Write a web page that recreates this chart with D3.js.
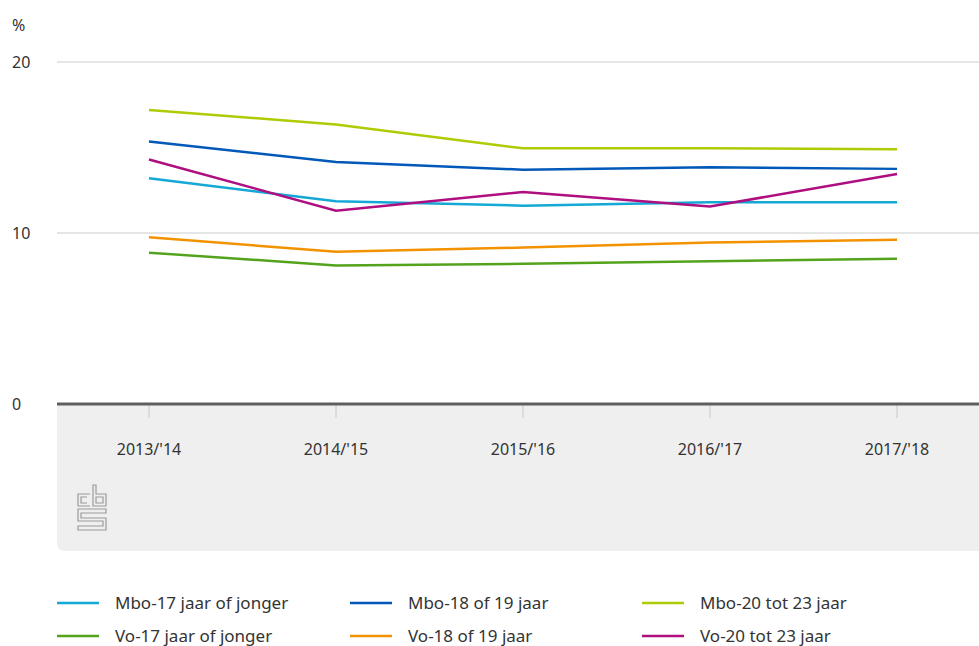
<!DOCTYPE html>
<html>
<head>
<meta charset="utf-8">
<script src="https://cdn.jsdelivr.net/npm/d3@7"></script>
<style>
  body { margin: 0; background: #fff; }
  svg text { font-family: "Noto Sans", "Open Sans", sans-serif; fill: #333; }
</style>
</head>
<body>
<div id="vis"></div>
<script>
const WIDTH = 979;
const HEIGHT = 646;

// schooljaren
const years = ["2013/'14", "2014/'15", "2015/'16", "2016/'17", "2017/'18"];
const yTicks = [0, 10, 20];

const seriesNames = ["Mbo-17 jaar of jonger", "Mbo-18 of 19 jaar", "Mbo-20 tot 23 jaar",
                     "Vo-17 jaar of jonger", "Vo-18 of 19 jaar", "Vo-20 tot 23 jaar"];
const colors = ["#14a8d6", "#0058b8", "#afcb05", "#53a31d", "#f39200", "#af0e80"];

const mbo17 = [13.2, 11.85, 11.6, 11.8, 11.8];
const mbo18 = [15.35, 14.15, 13.7, 13.85, 13.75];
const mbo20 = [17.2, 16.35, 14.95, 14.95, 14.9];
const vo17 = [8.85, 8.1, 8.2, 8.35, 8.5];
const vo18 = [9.75, 8.9, 9.15, 9.45, 9.6];
const vo20 = [14.3, 11.3, 12.4, 11.55, 13.45];

const allSeries = [mbo17, mbo18, mbo20, vo17, vo18, vo20];

const MARG = {left: 57, right: 0, top: 62, bottom: 242};

const svg = d3.select("#vis")
  .append("svg")
    .attr("width", WIDTH)
    .attr("height", HEIGHT);

const x = d3.scalePoint()
  .domain(years)
  .range([149, 897]);

const y = d3.scaleLinear()
  .domain([0, 20])
  .range([404, 62]);

// grijs vlak onder de as
svg.append("path")
  .attr("d", "M57,404 H979 V551 H65 Q57,551 57,543 Z")
  .attr("fill", "#efefef");

// gridlijnen
svg.selectAll(".grid")
  .data(yTicks.filter(d => d > 0))
  .enter()
  .append("line")
    .attr("x1", MARG.left)
    .attr("x2", WIDTH)
    .attr("y1", d => y(d))
    .attr("y2", d => y(d))
    .attr("stroke", "#cccccc")
    .attr("stroke-width", 1);

svg.selectAll(".ylab")
  .data(yTicks)
  .enter()
  .append("text")
    .attr("x", 12)
    .attr("y", d => y(d))
    .attr("dy", "0.35em")
    .attr("font-size", 16)
    .text(d => d);

svg.append("text")
  .attr("x", 12)
  .attr("y", 25)
  .attr("dy", "0.35em")
  .attr("font-size", 16)
  .text("%");

// x-as ticks
svg.selectAll(".tick")
  .data(years)
  .enter()
  .append("line")
    .attr("x1", d => x(d))
    .attr("x2", d => x(d))
    .attr("y1", 405)
    .attr("y2", 418)
    .attr("stroke", "#c8c8c8")
    .attr("stroke-width", 1);

svg.selectAll(".xlab")
  .data(years)
  .enter()
  .append("text")
    .attr("x", d => x(d))
    .attr("y", 449)
    .attr("dy", "0.35em")
    .attr("text-anchor", "middle")
    .attr("font-size", 16)
    .text(d => d);

// basislijn
svg.append("line")
  .attr("x1", MARG.left)
  .attr("x2", WIDTH)
  .attr("y1", y(0))
  .attr("y2", y(0))
  .attr("stroke", "#5f5f5f")
  .attr("stroke-width", 3);

// lijnen
const line = d3.line()
  .x((d, i) => x(years[i]))
  .y(d => y(d));

const drawOrder = [3, 4, 0, 1, 2, 5];
drawOrder.forEach(k => {
  svg.append("path")
    .datum(allSeries[k])
    .attr("d", line)
    .attr("fill", "none")
    .attr("stroke", colors[k])
    .attr("stroke-width", 2.5);
});

// cbs logo
const logo = svg.append("g")
  .attr("transform", "translate(77,484)")
  .attr("fill", "none")
  .attr("stroke", "#9a9a9a")
  .attr("stroke-width", 1.2);
// c
logo.append("path").attr("d", "M13,10 H1 V22 H13 M10,13 H4 V19 H10");
// b
logo.append("path").attr("d", "M16,1 H19 V10 H29 V22 H16 Z M19,13 V19 H26 V13 Z");
// s
logo.append("path").attr("d", "M29,25 H1 V37 H26 V42 H1 V46 H29 V34 H4 V29 H29 Z");

// legenda
const legX = [57, 350, 642];
const legY = [603, 636];
seriesNames.forEach((name, i) => {
  const lx = legX[i % 3];
  const ly = legY[Math.floor(i / 3)];
  svg.append("line")
    .attr("x1", lx)
    .attr("x2", lx + 42)
    .attr("y1", ly)
    .attr("y2", ly)
    .attr("stroke", colors[i])
    .attr("stroke-width", 2.5);
  svg.append("text")
    .attr("x", lx + 58)
    .attr("y", ly)
    .attr("dy", "0.35em")
    .attr("font-size", 17)
    .text(name);
});
</script>
</body>
</html>
